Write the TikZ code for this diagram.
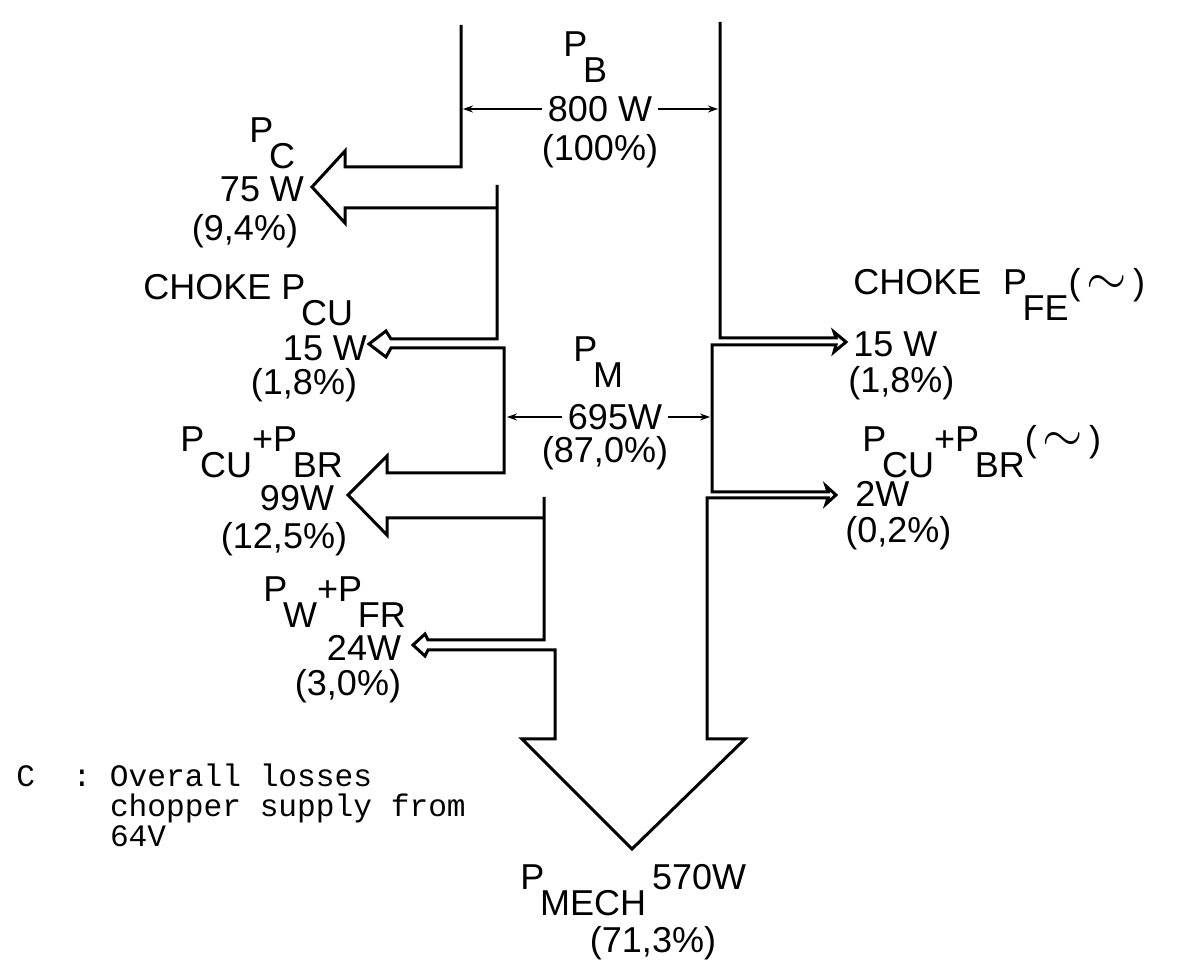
\documentclass[tikz,border=0pt]{standalone}
\usepackage{fontspec}
\setmainfont{Liberation Sans}
\newfontfamily\notefont{Liberation Mono}
\usetikzlibrary{arrows.meta}
\newcommand\lw[1]{\kern-0.12em\raisebox{-0.7em}{#1}}
\newcommand\ac{(\,\scalebox{1.5}{$\sim$}\,)}
\begin{document}
\begin{tikzpicture}[x=0.5pt, y=-0.5pt, every node/.style={font=\fontsize{18}{21}\selectfont, inner sep=0pt},
  flow/.style={line width=1.5pt, line join=miter},
  dim/.style={line width=0.9pt, -{Stealth[length=5pt,width=3.5pt]}},
  lbl/.style={anchor=base west}, val/.style={anchor=base}]
\useasboundingbox (0,0) rectangle (1191,973);
% power flow outline
\draw[flow] (461,25) -- (461,167) -- (345,167) -- (345,151) -- (312,187) -- (345,223) -- (345,208) -- (497,208);
\draw[flow] (497,185) -- (497,339) -- (391,339) -- (386,331) -- (369,344) -- (386,357) -- (391,348) -- (504,348) -- (504,473) -- (387,473) -- (387,456) -- (348,495) -- (387,535) -- (387,518) -- (544,518);
\draw[flow] (544,497) -- (544,640) -- (428,640) -- (425,634) -- (413,645) -- (425,656) -- (428,650) -- (555,650) -- (555,739) -- (522,739) -- (632,849) -- (745,739) -- (707,739) -- (707,498) -- (828,498) -- (826,504) -- (836,495) -- (826,486) -- (828,492) -- (712,492) -- (712,345) -- (836,345) -- (834,352) -- (846,342) -- (834,332) -- (836,338) -- (720,338) -- (720,22);
% input and motor power
\coordinate (bl) at (463,109); \coordinate (br) at (718,109);
\node[lbl] (pb) at (563,57) {P\lw{B}};
\node[inner xsep=3pt] (pbval) at (600,109) {800 W};
\node[val] (pbpct) at (600,161) {(100\%)};
\draw[dim] (pbval) -- (bl); \draw[dim] (pbval) -- (br);
\coordinate (ml) at (507,417); \coordinate (mr) at (710,417);
\node[lbl] (pm) at (573,362) {P\lw{M}};
\node[inner xsep=3pt] (pmval) at (615,417) {695W};
\node[val] (pmpct) at (605,463) {(87,0\%)};
\draw[dim] (pmval) -- (ml); \draw[dim] (pmval) -- (mr);
% losses, left side
\node[lbl] (pc) at (249,143) {P\lw{C}};
\node[val] (pcval) at (262,202) {75 W};
\node[val] (pcpct) at (245,241) {(9,4\%)};
\node[lbl] (pcu) at (143,300) {CHOKE P\lw{CU}};
\node[val] (pcuval) at (325,361) {15 W};
\node[val] (pcupct) at (304,395) {(1,8\%)};
\node[lbl] (pcubr) at (180,452) {P\lw{CU}+P\lw{BR}};
\node[val] (pcubrval) at (297,511) {99W};
\node[val] (pcubrpct) at (284,549) {(12,5\%)};
\node[lbl] (pwfr) at (263,602) {P\lw{W}+P\lw{FR}};
\node[val] (pwfrval) at (364,661) {24W};
\node[val] (pwfrpct) at (348,696) {(3,0\%)};
% losses, right side
\node[lbl] (pfe) at (853,295) {CHOKE\hspace{0.6em}P\lw{FE}\ac};
\node[lbl] (pfeval) at (853,357) {15 W};
\node[lbl] (pfepct) at (848,393) {(1,8\%)};
\node[lbl] (pacu) at (862,452) {P\lw{CU}+P\lw{BR}\ac};
\node[lbl] (pacuval) at (855,507) {2W};
\node[lbl] (pacupct) at (845,543) {(0,2\%)};
% output
\node[lbl] (pmech) at (520,890) {P\lw{MECH}\,570W};
\node[val] (pmechpct) at (653,952) {(71,3\%)};
\node[anchor=north west, align=left, font=\notefont\fontsize{15.6}{15}\selectfont] (note) at (16,763) {C~~:~Overall losses\\\phantom{C~~:~}chopper supply from\\\phantom{C~~:~}64V};
\end{tikzpicture}
\end{document}
